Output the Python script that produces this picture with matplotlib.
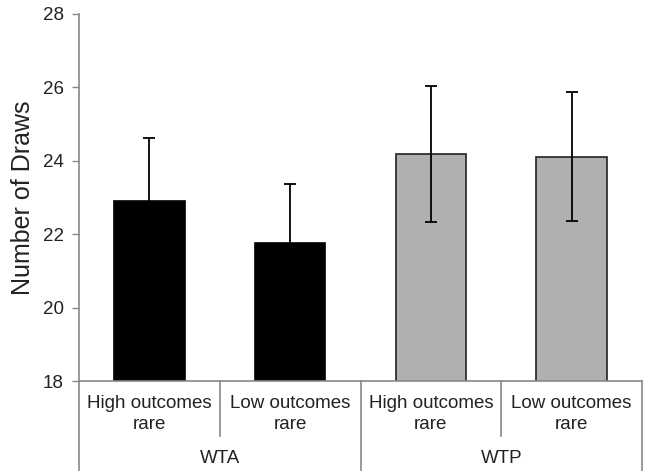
import numpy as np
import matplotlib.pyplot as plt

plt.rcParams['font.family'] = ['Liberation Sans', 'DejaVu Sans']

# Daten
conditions = ["High outcomes\nrare", "Low outcomes\nrare", "High outcomes\nrare", "Low outcomes\nrare"]
groups = ["WTA", "WTP"]
means = [22.91, 21.77, 24.19, 24.11]
errors = [1.72, 1.59, 1.86, 1.76]
bar_colors = ["black", "black", "#b0b0b0", "#b0b0b0"]
edge_colors = ["black", "black", "#222222", "#222222"]
y_ticks = [18, 20, 22, 24, 26, 28]

axis_grey = "#888888"

fig = plt.figure(figsize=(6.46, 4.71), dpi=100)
ax = fig.add_axes([79 / 646, 90 / 471, (642 - 79) / 646, 367 / 471])

x = np.arange(len(means))
ax.bar(x, means, width=0.5, bottom=0, color=bar_colors, edgecolor=edge_colors,
       linewidth=1.2, zorder=2)
ax.errorbar(x, means, yerr=errors, fmt="none", ecolor="black", elinewidth=1.3,
            capsize=4, capthick=1.3, zorder=3)

ax.set_xlim(-0.5, 3.5)
ax.set_ylim(18, 28)
ax.set_yticks(y_ticks)
ax.tick_params(axis="y", labelsize=13.5, colors=axis_grey, labelcolor="#222222",
               length=5, width=1, direction="out", pad=6)
ax.set_xticks([])
ax.set_ylabel("Number of Draws", fontsize=18, color="#222222")
ax.yaxis.set_label_coords(-0.078, 0.5)

for s in ["top", "right"]:
    ax.spines[s].set_visible(False)
for s in ["left", "bottom"]:
    ax.spines[s].set_color(axis_grey)
    ax.spines[s].set_linewidth(1.2)

# Kategorienachse (hierarchisch)
trans = ax.get_xaxis_transform()
for xb in [-0.5, 1.5, 3.5]:
    ax.plot([xb, xb], [0, -0.26], color=axis_grey, lw=1.2, transform=trans, clip_on=False)
for xb in [0.5, 2.5]:
    ax.plot([xb, xb], [0, -0.15], color=axis_grey, lw=1.2, transform=trans, clip_on=False)

for xi, lab in zip(x, conditions):
    ax.text(xi, -0.09, lab, transform=trans, ha="center", va="center",
            fontsize=13.5, color="#222222", linespacing=1.3)
for gi, g in enumerate(groups):
    ax.text(2 * gi + 0.5, -0.21, g, transform=trans, ha="center", va="center",
            fontsize=13.5, color="#222222")

plt.savefig("out.png", dpi=100)
